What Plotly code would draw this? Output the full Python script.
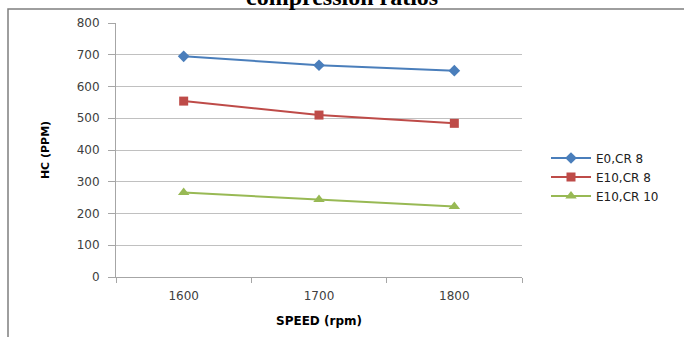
import plotly.graph_objects as go

speeds = ["1600", "1700", "1800"]
e0_cr8 = [695, 667, 650]
e10_cr8 = [554, 510, 484]
e10_cr10 = [266, 244, 222]
y_ticks = [0, 100, 200, 300, 400, 500, 600, 700, 800]

W, H = 684, 337
L, R, T, B = 116, 162, 23, 60
pw, ph = W - L - R, H - T - B

def px_x(p):
    return (p - L) / pw

def px_y(p):
    return (H - B - p) / ph

fig = go.Figure()
series = [
    ("E0,CR 8", e0_cr8, "#4A7EBB", "diamond", 9),
    ("E10,CR 8", e10_cr8, "#BE4B48", "square", 9),
    ("E10,CR 10", e10_cr10, "#98B954", "triangle-up", 10),
]
for name, vals, col, sym, sz in series:
    fig.add_trace(go.Scatter(
        x=speeds, y=vals, name=name, mode="lines+markers",
        line=dict(color=col, width=2),
        marker=dict(symbol=sym, size=sz, color=col),
    ))

fig.update_layout(
    width=W, height=H,
    margin=dict(l=L, r=R, t=T, b=B),
    paper_bgcolor="white", plot_bgcolor="white",
    font=dict(family="DejaVu Sans", size=12, color="#404040"),
    showlegend=True,
    legend=dict(x=px_x(546), y=px_y(177), xanchor="left", yanchor="middle",
                font=dict(family="DejaVu Sans", size=12, color="#202020"),
                tracegroupgap=0, itemwidth=40, bgcolor="rgba(0,0,0,0)"),
    xaxis=dict(type="category", categoryorder="array", categoryarray=speeds,
               range=[-0.5, 2.5], autorange=False,
               tickson="boundaries", ticks="outside", ticklen=5, tickcolor="#a6a6a6",
               ticklabelstandoff=8,
               showline=True, linecolor="#a6a6a6", linewidth=1, showgrid=False,
               title=dict(text="<b>SPEED (rpm)</b>", standoff=14,
                          font=dict(family="DejaVu Sans", size=12, color="#000000")),
               tickfont=dict(size=12, color="#404040")),
    yaxis=dict(range=[0, 800], tickvals=y_ticks, ticks="outside", ticklen=7,
               tickcolor="#a6a6a6", showline=True, linecolor="#a6a6a6", linewidth=1,
               ticklabelstandoff=6,
               showgrid=True, gridcolor="#c0c0c0", gridwidth=1, zeroline=False,
               title=dict(text="<b>HC (PPM)</b>", standoff=24,
                          font=dict(family="DejaVu Sans", size=11, color="#000000")),
               tickfont=dict(size=12, color="#404040")),
)

fig.add_shape(type="rect", xref="paper", yref="paper",
              x0=px_x(8), x1=px_x(700), y0=px_y(360), y1=px_y(9),
              line=dict(color="#7f7f7f", width=1.5), fillcolor="rgba(0,0,0,0)", layer="below")

fig.add_annotation(text="<b>compression ratios</b>", xref="paper", yref="paper",
                   x=px_x(342), y=px_y(12), xanchor="center", yanchor="bottom",
                   showarrow=False,
                   font=dict(family="Liberation Serif", size=24, color="#000000"))

fig.write_html("out.html")
